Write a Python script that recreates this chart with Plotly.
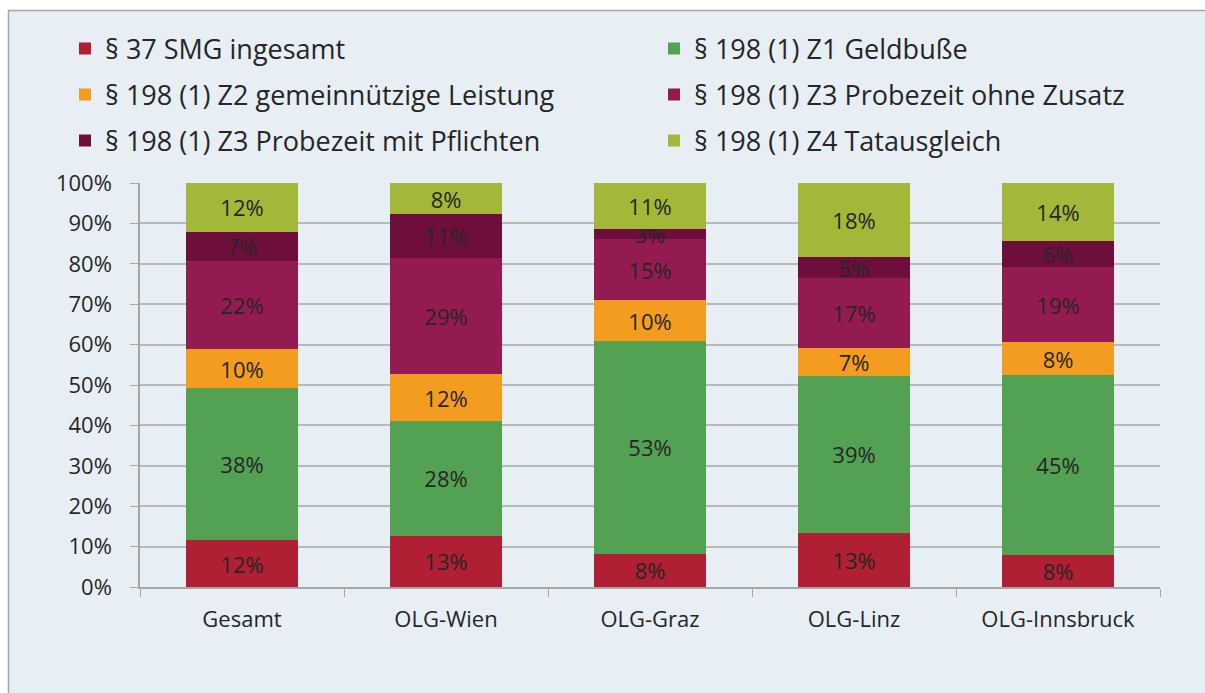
import plotly.graph_objects as go

categories = ["Gesamt", "OLG-Wien", "OLG-Graz", "OLG-Linz", "OLG-Innsbruck"]
series_names = [
    "§ 37 SMG ingesamt",
    "§ 198 (1) Z1 Geldbuße",
    "§ 198 (1) Z2 gemeinnützige Leistung",
    "§ 198 (1) Z3 Probezeit ohne Zusatz",
    "§ 198 (1) Z3 Probezeit mit Pflichten",
    "§ 198 (1) Z4 Tatausgleich",
]
smg = [11.6, 12.7, 8.2, 13.4, 7.9]
z1 = [37.6, 28.4, 52.7, 38.9, 44.6]
z2 = [9.6, 11.6, 10.1, 6.9, 8.1]
z3_ohne = [22.0, 28.7, 15.1, 17.2, 18.6]
z3_mit = [7.1, 10.9, 2.6, 5.3, 6.4]
z4 = [12.1, 7.7, 11.3, 18.3, 14.4]
series_values = [smg, z1, z2, z3_ohne, z3_mit, z4]
colors = ["#B01F33", "#53A254", "#F39C1F", "#941B51", "#6E0E3C", "#A3B838"]
tick_vals = [0, 10, 20, 30, 40, 50, 60, 70, 80, 90, 100]
tick_text = [f"{v}%" for v in tick_vals]

FONT = "Open Sans"
W, H = 1205, 693
L, R, T, B = 140, 45, 183, 106
pw = W - L - R
ph = H - T - B

def px_x(x):
    return (x - L) / pw

def px_y(y):
    return (H - B - y) / ph

legend_ids = ["legend", "legend2", "legend3", "legend4", "legend5", "legend6"]
legend_pos = [(65, 49), (654, 49), (65, 95), (654, 95), (65, 141), (654, 141)]

fig = go.Figure()
for name, vals, col, lg in zip(series_names, series_values, colors, legend_ids):
    fig.add_trace(go.Bar(
        x=categories, y=vals, name=name, marker_color=col,
        marker_line_width=0, showlegend=True,
        text=[f"{v:.0f}%" for v in vals],
        textposition="inside", insidetextanchor="middle", textangle=0,
        textfont=dict(family=FONT, size=22, color="#262626"),
        legend=lg,
    ))

leg_common = dict(orientation="h", xanchor="left", yanchor="middle",
                  font=dict(family=FONT, size=27, color="#262626"),
                  bgcolor="rgba(0,0,0,0)")

legends = {}
for lg, (lx, ly) in zip(legend_ids, legend_pos):
    legends[lg] = dict(x=px_x(lx), y=px_y(ly), **leg_common)

fig.update_layout(
    width=W, height=H,
    margin=dict(l=L, r=R, t=T, b=B, pad=0),
    showlegend=True,
    barmode="stack", bargap=0.45,
    paper_bgcolor="white", plot_bgcolor="rgba(0,0,0,0)",
    uniformtext=dict(minsize=22, mode="show"),
    xaxis=dict(tickson="boundaries", ticks="outside", ticklen=8, tickcolor="#A6A6A6",
               showline=True, linecolor="#A6A6A6", linewidth=1.5,
               tickfont=dict(family=FONT, size=22, color="#262626"),
               ticklabelstandoff=12, range=[-0.5, 4.5]),
    yaxis=dict(range=[0, 100], tickvals=tick_vals, ticktext=tick_text,
               ticks="outside", ticklen=8, tickcolor="#A6A6A6",
               showline=True, linecolor="#A6A6A6", linewidth=1.5,
               showgrid=True, gridcolor="#B8B8B8", gridwidth=1.5,
               tickfont=dict(family=FONT, size=22, color="#262626"),
               ticklabelstandoff=14, zeroline=False),
    shapes=[dict(type="rect", xref="paper", yref="paper", layer="below",
                 x0=px_x(8.5), x1=px_x(W + 10), y0=px_y(10.5), y1=px_y(H + 10),
                 fillcolor="#E7EFF5", line=dict(color="#A6A6A6", width=1.5))],
    **legends,
)

fig.write_html(
    "out.html",
    config={"displayModeBar": False},
    post_script="document.body.style.margin='0';document.body.style.overflow='hidden';",
)
